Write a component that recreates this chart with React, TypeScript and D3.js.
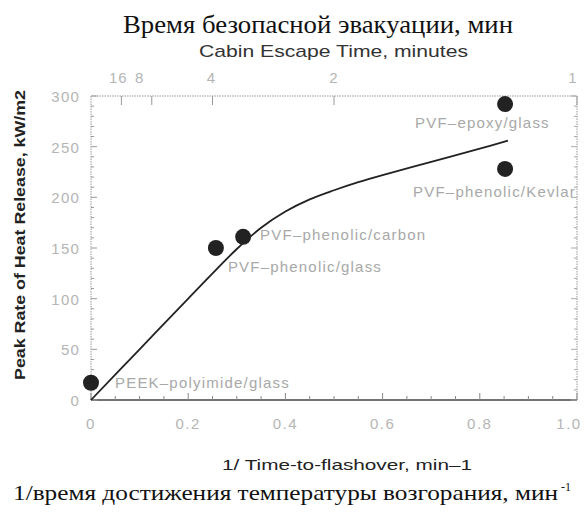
import React from 'react'
import * as d3 from 'd3'

// data
const materials = ['PEEK–polyimide/glass', 'PVF–phenolic/glass', 'PVF–phenolic/carbon', 'PVF–epoxy/glass', 'PVF–phenolic/Kevlar']
const invFlashover = [0.0, 0.257, 0.313, 0.852, 0.852]
const peakHrr = [17, 150, 161, 292, 228]
const labelDx = [24, 12, 17, -90, -92]
const labelDy = [5, 24, 3, 24, 28]

const fitX = [0, 0.1, 0.2, 0.3, 0.35, 0.4, 0.45, 0.5, 0.55, 0.6, 0.7, 0.8, 0.858]
const fitY = [0, 50, 100, 149, 170, 186, 198, 207, 215, 222, 235, 248, 256]

const bottomTicks = [0, 0.2, 0.4, 0.6, 0.8, 1.0]
const bottomTickLabels = ['0', '0.2', '0.4', '0.6', '0.8', '1.0']
const leftTicks = [0, 50, 100, 150, 200, 250, 300]
const escapeMinutes = [16, 8, 4, 2, 1]

const W = 587
const H = 513
const margin = { left: 91, right: 10, top: 96, bottom: 113 }

const App = () => {
  const x = d3.scaleLinear().domain([0, 1]).range([margin.left, W - margin.right])
  const y = d3.scaleLinear().domain([0, 300]).range([H - margin.bottom, margin.top])
  const line = d3.line<number>()
    .x((d, i) => x(fitX[i]))
    .y(d => y(d))
    .curve(d3.curveCatmullRom)

  const x0 = x(0), x1 = x(1), y0 = y(0), y1 = y(300)
  const gray = '#b5b5b5'
  const minorY = d3.range(0, 301, 10)
  const minorX = d3.range(0, 1.001, 0.05)
  const sans = 'Liberation Sans'
  // top labels sit a bit off their ticks in the scan
  const topShift: Record<number, number> = { 16: -3, 8: -12, 4: -1, 2: 0, 1: -4 }

  return (
    <svg width={W} height={H} style={{ position: 'absolute', left: 0, top: 0, background: '#fff' }}>
      <text x={123} y={33} fontFamily="Liberation Serif" fontSize={26} textLength={390} lengthAdjust="spacingAndGlyphs" fill="#111">
        Время безопасной эвакуации, мин
      </text>
      <text x={199} y={57} fontFamily={sans} fontSize={17} textLength={269} lengthAdjust="spacingAndGlyphs" fill="#333">
        Cabin Escape Time, minutes
      </text>

      {/* frame */}
      <path d={`M${x0},${y0}V${y1}H${x1}V${y0}`} fill="none" stroke="#999" strokeWidth={1} strokeDasharray="1.5,1" />
      <line x1={x0} x2={x1} y1={y0} y2={y0} stroke="#444" strokeWidth={1.3} />

      {/* left + right minor ticks */}
      {minorY.map(v => (
        <g key={'my' + v}>
          <line x1={x0} x2={x0 + (v % 50 === 0 ? 6 : 3)} y1={y(v)} y2={y(v)} stroke="#999" />
          <line x1={x1} x2={x1 - (v % 50 === 0 ? 6 : 3)} y1={y(v)} y2={y(v)} stroke="#aaa" />
        </g>
      ))}
      {minorX.map(v => (
        <line key={'mx' + v} x1={x(v)} x2={x(v)} y1={y0} y2={y0 - (Math.round(v * 100) % 20 === 0 ? 7 : 4)} stroke="#888" />
      ))}

      {/* top axis: escape time = 1 / x */}
      {escapeMinutes.map(m => (
        <line key={'tt' + m} x1={x(1 / m)} x2={x(1 / m)} y1={y1} y2={y1 + 9} stroke="#999" />
      ))}
      {escapeMinutes.map(m => (
        <text key={'tl' + m} x={x(1 / m) + topShift[m]} y={y1 - 13} textAnchor="middle"
          fontFamily={sans} fontSize={15} letterSpacing={1} fill={gray}>{m}</text>
      ))}

      {leftTicks.map(v => (
        <text key={'yl' + v} x={x0 - 11} y={y(v) + 6} textAnchor="end" fontFamily={sans} fontSize={15} letterSpacing={1.2} fill={gray}>{v}</text>
      ))}
      {bottomTicks.map((v, i) => (
        <text key={'xl' + v} x={x(v) + (v === 1 ? -8 : 0)} y={y0 + 29} textAnchor="middle" fontFamily={sans} fontSize={15} letterSpacing={1.5} fill={gray}>{bottomTickLabels[i]}</text>
      ))}

      <text transform={`translate(25,380) rotate(-90)`} fontFamily={sans} textLength={290} lengthAdjust="spacingAndGlyphs"
        fontSize={15} fontWeight="bold" fill="#222">Peak Rate of Heat Release, kW/m2</text>

      <path d={line(fitY) || ''} fill="none" stroke="#222" strokeWidth={1.8} />

      {materials.map((m, i) => (
        <g key={m}>
          <circle cx={x(invFlashover[i])} cy={y(peakHrr[i])} r={8} fill="#222" />
          <text x={x(invFlashover[i]) + labelDx[i]} y={y(peakHrr[i]) + labelDy[i]} fontFamily={sans} fontSize={15}
            letterSpacing={1.2} fill="#a8a8a8">{m}</text>
        </g>
      ))}

      <text x={222} y={470} fontFamily={sans} fontSize={15} textLength={250} lengthAdjust="spacingAndGlyphs" fill="#222">1/ Time-to-flashover, min–1</text>
      <text x={13} y={500} fontFamily="Liberation Serif" fontSize={22} textLength={545} lengthAdjust="spacingAndGlyphs" fill="#111">
        1/время достижения температуры возгорания, мин
      </text>
      <text x={561} y={491} fontFamily="Liberation Serif" fontSize={12} fill="#111">-1</text>
    </svg>
  )
}

export default App
